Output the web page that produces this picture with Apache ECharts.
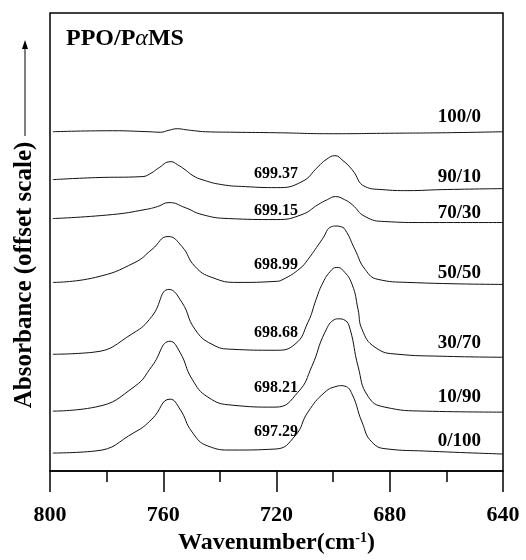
<!DOCTYPE html>
<html>
<head>
<meta charset="utf-8">
<script src="https://cdn.jsdelivr.net/npm/echarts@6/dist/echarts.min.js"></script>
<style>
  html, body { margin: 0; padding: 0; background: #fff; }
  #main { width: 526px; height: 560px; }
</style>
</head>
<body>
<div id="main"></div>
<script>
// FTIR spectra, PPO/PaMS blends (absorbance, offset scale)
var samples = ['100/0', '90/10', '70/30', '50/50', '30/70', '10/90', '0/100'];
var peakLabels = ['699.37', '699.15', '698.99', '698.68', '698.21', '697.29'];
var xTicks = [800, 760, 720, 680, 640];

var wn100_0 = [799, 778, 765, 761, 758, 755, 752, 749, 745, 735, 720, 700, 680, 660, 640];
var ab100_0 = [3.40, 3.41, 3.40, 3.395, 3.415, 3.43, 3.42, 3.41, 3.40, 3.395, 3.39, 3.38, 3.385, 3.39, 3.40];

var wn90_10 = [799, 784, 767.5, 764, 762, 757.3, 755, 752.3, 749.5, 746.3, 739.3, 731, 720, 711, 705.3, 702.5, 699.4, 696.5, 693.3, 688.7, 682.7, 673.6, 661.5, 640];
var ab90_10 = [2.92, 2.94, 2.95, 2.99, 3.03, 3.10, 3.07, 3.02, 2.96, 2.92, 2.87, 2.85, 2.84, 2.90, 3.05, 3.12, 3.16, 3.11, 3.02, 2.85, 2.82, 2.81, 2.82, 2.83];

var wn70_30 = [799, 778, 766.4, 762, 758, 752.3, 746.3, 737, 720, 711, 705.3, 702, 699.2, 696, 693.3, 688.7, 681.7, 667.6, 640];
var ab70_30 = [2.53, 2.57, 2.62, 2.65, 2.69, 2.64, 2.57, 2.53, 2.52, 2.57, 2.67, 2.72, 2.75, 2.72, 2.67, 2.55, 2.50, 2.49, 2.49];

var wn50_50 = [799, 784, 770, 764, 758.3, 753.4, 748.8, 742.8, 733.6, 720.5, 717.7, 711.7, 708.9, 703.9, 700.5, 699, 697.5, 695.8, 692.3, 688.7, 684.1, 673.6, 640];
var ab50_50 = [1.89, 1.94, 2.09, 2.22, 2.35, 2.25, 2.05, 1.94, 1.89, 1.90, 1.92, 2.03, 2.12, 2.32, 2.45, 2.455, 2.45, 2.42, 2.22, 2.02, 1.92, 1.89, 1.87];

var wn30_70 = [799, 784.8, 770.7, 764, 758, 753.4, 748.8, 742.8, 735.7, 720.5, 713.5, 708.9, 706, 703.9, 701, 698.7, 696.5, 693.3, 691.2, 689.8, 685.2, 677.1, 661.5, 640];
var ab30_70 = [1.17, 1.19, 1.38, 1.55, 1.82, 1.69, 1.42, 1.27, 1.22, 1.21, 1.27, 1.49, 1.72, 1.87, 2.00, 2.04, 2.01, 1.87, 1.62, 1.42, 1.24, 1.17, 1.15, 1.14];

var wn10_90 = [799, 784.1, 770, 764, 757.6, 754.1, 749.8, 744.2, 735.7, 720.5, 712.4, 707.5, 702.9, 699.3, 698.2, 695.8, 694, 691.2, 687.7, 681.7, 667.6, 640];
var ab10_90 = [0.60, 0.64, 0.85, 1.05, 1.30, 1.19, 0.92, 0.74, 0.66, 0.64, 0.79, 1.05, 1.39, 1.52, 1.525, 1.51, 1.42, 1.05, 0.75, 0.64, 0.60, 0.59];

var wn0_100 = [799, 784.1, 770, 764, 757.6, 754.1, 749.8, 744.2, 735.7, 720.5, 713.5, 708.9, 702.9, 698.6, 697.3, 695.8, 693.3, 689.8, 686.3, 680.6, 667.6, 640];
var ab0_100 = [0.18, 0.20, 0.39, 0.52, 0.72, 0.62, 0.39, 0.25, 0.21, 0.22, 0.35, 0.59, 0.79, 0.85, 0.855, 0.85, 0.77, 0.49, 0.29, 0.22, 0.20, 0.17];

var spectra = [
    [wn100_0, ab100_0], [wn90_10, ab90_10], [wn70_30, ab70_30], [wn50_50, ab50_50],
    [wn30_70, ab30_70], [wn10_90, ab10_90], [wn0_100, ab0_100]
];

// label placement (pixels)
var sampleLabelY = [117, 177, 213, 273, 343, 397, 441];
var peakLabelY = [174, 211, 265, 333, 388, 432];

var serif = '"Liberation Serif", "DejaVu Serif", serif';

var myChart = echarts.init(document.getElementById('main'), null, { renderer: 'canvas' });

var series = spectra.map(function (s, i) {
    return {
        name: samples[i],
        type: 'line',
        data: s[0].map(function (w, k) { return [w, s[1][k]]; }),
        showSymbol: false,
        smooth: 0.5,
        lineStyle: { color: '#111', width: 1 },
        silent: true
    };
});

var graphics = [];
// title
graphics.push({
    type: 'text', left: 66, top: 27,
    style: {
        text: 'PPO/P{a|α}MS',
        font: 'bold 24px ' + serif,
        fill: '#000',
        rich: { a: { font: 'italic 24px ' + serif, fill: '#000' } }
    }
});
// sample labels
samples.forEach(function (t, i) {
    graphics.push({
        type: 'text', x: 481, y: sampleLabelY[i],
        style: { text: t, font: 'bold 19px ' + serif, fill: '#000', align: 'right', verticalAlign: 'middle' }
    });
});
// peak positions
peakLabels.forEach(function (t, i) {
    graphics.push({
        type: 'text', x: 276, y: peakLabelY[i],
        style: { text: t, font: 'bold 16px ' + serif, fill: '#000', align: 'center', verticalAlign: 'middle' }
    });
});
// y axis title + arrow
graphics.push({
    type: 'text', x: 25, y: 275, rotation: Math.PI / 2,
    style: { text: 'Absorbance (offset scale)', font: 'bold 25px ' + serif, fill: '#000', align: 'center', verticalAlign: 'middle' }
});
graphics.push({
    type: 'line', shape: { x1: 25, y1: 136, x2: 25, y2: 46 },
    style: { stroke: '#000', lineWidth: 1 }
});
graphics.push({
    type: 'polygon', shape: { points: [[25, 40], [22, 49], [28, 49]] },
    style: { fill: '#000' }
});

var option = {
    backgroundColor: '#fff',
    animation: false,
    grid: {
        left: 50, right: 23, top: 13, bottom: 88,
        show: true, borderColor: '#000', borderWidth: 1.5
    },
    xAxis: {
        type: 'value',
        inverse: true,
        min: 640, max: 800, interval: 40,
        name: 'Wavenumber(cm{sup|-1})',
        nameLocation: 'middle',
        nameGap: 60,
        nameTextStyle: {
            fontFamily: serif, fontWeight: 'bold', fontSize: 24, color: '#000',
            rich: { sup: { fontFamily: serif, fontWeight: 'bold', fontSize: 14, color: '#000', verticalAlign: 'top', padding: [0, 0, 10, 0] } }
        },
        axisLine: { lineStyle: { color: '#000', width: 1.5 } },
        axisTick: { length: 21, lineStyle: { color: '#000', width: 1.5 } },
        minorTick: { show: true, splitNumber: 2, length: 11, lineStyle: { color: '#000', width: 1.5 } },
        splitLine: { show: false },
        axisLabel: {
            margin: 33, color: '#000', fontFamily: serif, fontWeight: 'bold', fontSize: 22,
            formatter: function (v) { return xTicks.indexOf(v) >= 0 ? String(v) : ''; }
        }
    },
    yAxis: {
        type: 'value', min: 0, max: 4.59,
        axisLine: { show: false }, axisTick: { show: false },
        axisLabel: { show: false }, splitLine: { show: false }
    },
    series: series,
    graphic: graphics
};

myChart.setOption(option);
</script>
</body>
</html>
